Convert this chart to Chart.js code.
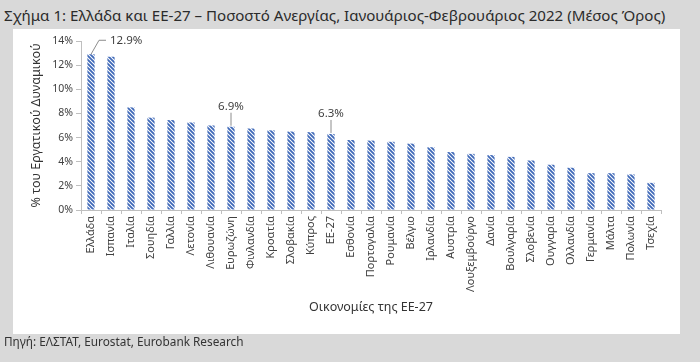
<!DOCTYPE html>
<html>
<head>
<meta charset="utf-8">
<script src="https://cdn.jsdelivr.net/npm/chart.js@4"></script>
<style>
  body { margin: 0; width: 700px; height: 362px; background: #d9d9d9; position: relative; overflow: hidden;
         font-family: "Noto Sans", sans-serif; }
  #title { position: absolute; left: 4px; top: 5px; font-size: 15.1px; color: #2b2b2b; white-space: nowrap; }
  #panel { position: absolute; left: 13px; top: 29px; width: 667px; height: 305px; background: #fff; }
  #source { position: absolute; left: 4px; top: 333px; font-size: 11.8px; color: #333; white-space: nowrap; }
</style>
</head>
<body>
<div id="title">Σχήμα 1: Ελλάδα και ΕΕ-27 – Ποσοστό Ανεργίας, Ιανουάριος-Φεβρουάριος 2022 (Μέσος Όρος)</div>
<div id="panel"><canvas id="chart"></canvas></div>
<div id="source">Πηγή: ΕΛΣΤΑΤ, Eurostat, Eurobank Research</div>
<script>
const countries = ["Ελλάδα", "Ισπανία", "Ιταλία", "Σουηδία", "Γαλλία", "Λετονία", "Λιθουανία", "Ευρωζώνη",
  "Φινλανδία", "Κροατία", "Σλοβακία", "Κύπρος", "ΕΕ-27", "Εσθονία", "Πορτογαλία", "Ρουμανία", "Βέλγιο",
  "Ιρλανδία", "Αυστρία", "Λουξεμβούργο", "Δανία", "Βουλγαρία", "Σλοβενία", "Ουγγαρία", "Ολλανδία",
  "Γερμανία", "Μάλτα", "Πολωνία", "Τσεχία"];
const unemployment = [12.9, 12.7, 8.5, 7.65, 7.45, 7.25, 7.0, 6.9,
  6.75, 6.6, 6.5, 6.45, 6.3, 5.8, 5.75, 5.65, 5.5,
  5.2, 4.8, 4.65, 4.55, 4.4, 4.1, 3.75, 3.5,
  3.05, 3.05, 2.95, 2.25];
const yTicks = [0, 2, 4, 6, 8, 10, 12, 14];
const labelled = [0, 7, 12]; // bars with a value callout

// diagonal hatch fill
function hatch() {
  const c = document.createElement("canvas");
  c.width = 4; c.height = 4;
  const g = c.getContext("2d");
  g.fillStyle = "#ffffff";
  g.fillRect(0, 0, 4, 4);
  g.strokeStyle = "#3f69b8";
  g.lineWidth = 1.8;
  g.beginPath();
  g.moveTo(-1, -1); g.lineTo(5, 5);
  g.moveTo(-1, 3); g.lineTo(1, 5);
  g.moveTo(3, -1); g.lineTo(5, 1);
  g.stroke();
  return g.createPattern(c, "repeat");
}

const callouts = {
  id: "callouts",
  afterDatasetsDraw(chart) {
    const ctx = chart.ctx;
    const meta = chart.getDatasetMeta(0);
    ctx.save();
    ctx.strokeStyle = "#8c8c8c";
    ctx.lineWidth = 1;
    ctx.fillStyle = "#404040";
    ctx.font = "11.5px 'Noto Sans'";
    ctx.textBaseline = "middle";
    labelled.forEach((i, k) => {
      const bar = meta.data[i];
      const txt = unemployment[i].toFixed(1) + "%";
      ctx.beginPath();
      if (k === 0) {
        ctx.moveTo(bar.x, bar.y);
        ctx.lineTo(bar.x + 8, bar.y - 14);
        ctx.lineTo(bar.x + 15, bar.y - 14);
        ctx.stroke();
        ctx.textAlign = "left";
        ctx.fillText(txt, bar.x + 19, bar.y - 14);
      } else {
        ctx.moveTo(bar.x, bar.y - 14);
        ctx.lineTo(bar.x, bar.y - 1);
        ctx.stroke();
        ctx.textAlign = "center";
        ctx.fillText(txt, bar.x, bar.y - 20);
      }
    });
    ctx.restore();
  }
};

new Chart(document.getElementById("chart"), {
  type: "bar",
  data: {
    labels: countries,
    datasets: [{
      data: unemployment,
      backgroundColor: hatch(),
      borderWidth: 0,
      categoryPercentage: 1,
      barPercentage: 0.36
    }]
  },
  plugins: [callouts],
  options: {
    responsive: true,
    maintainAspectRatio: false,
    animation: false,
    layout: { padding: { top: 12, right: 19, left: 0, bottom: 0 } },
    plugins: { legend: { display: false }, tooltip: { enabled: false } },
    scales: {
      x: {
        grid: { display: true, drawOnChartArea: false, offset: true, tickLength: 4, color: "#bfbfbf" },
        border: { color: "#bfbfbf" },
        ticks: { minRotation: 90, maxRotation: 90, autoSkip: false, padding: 2,
                 color: "#404040", font: { family: "Noto Sans", size: 11 } },
        title: { display: true, text: "Οικονομίες της ΕΕ-27", color: "#333",
                 font: { family: "Noto Sans", size: 12.5 }, padding: { top: 4, bottom: 19 } },
        afterFit(s) { s.height = 124; }
      },
      y: {
        min: 0, max: 14,
        afterBuildTicks(s) { s.ticks = yTicks.map(v => ({ value: v })); },
        grid: { display: true, drawOnChartArea: false, tickLength: 5, color: "#bfbfbf" },
        border: { color: "#bfbfbf" },
        ticks: { padding: 3, color: "#404040", font: { family: "Noto Sans", size: 10.5 },
                 callback: v => v + "%" },
        title: { display: true, text: "% του Εργατικού Δυναμικού", color: "#333",
                 font: { family: "Noto Sans", size: 12.5 }, padding: { top: 16, bottom: 0 } },
        afterFit(s) { s.width = 68; }
      }
    }
  }
});
</script>
</body>
</html>
